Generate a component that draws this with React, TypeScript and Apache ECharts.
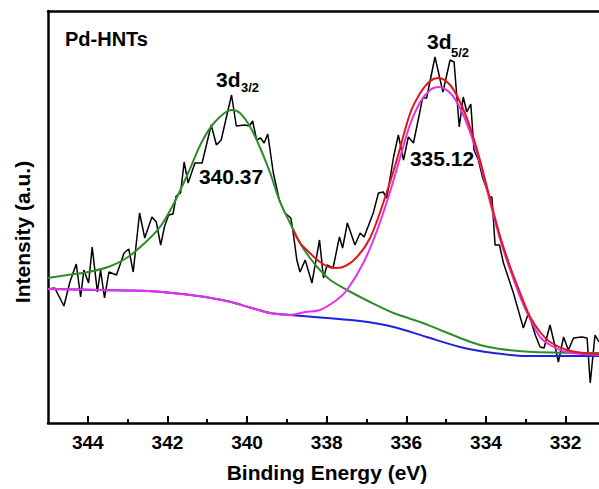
import React, { useEffect, useRef } from "react";
import * as echarts from "echarts";

// Binding energy (eV) / intensity (a.u.)
const rawBE = [345.0, 344.83, 344.6, 344.45, 344.29, 344.18, 344.1, 343.98, 343.89, 343.76, 343.68, 343.58, 343.47, 343.28, 343.09, 342.97, 342.86, 342.7, 342.57, 342.39, 342.28, 342.17, 342.07, 341.97, 341.86, 341.78, 341.67, 341.58, 341.48, 341.31, 341.13, 340.9, 340.77, 340.65, 340.39, 340.27, 340.06, 339.94, 339.86, 339.76, 339.66, 339.57, 339.48, 339.34, 339.19, 339.05, 338.9, 338.85, 338.75, 338.67, 338.54, 338.37, 338.18, 338.08, 337.99, 337.84, 337.68, 337.6, 337.48, 337.29, 337.16, 337.06, 336.83, 336.7, 336.58, 336.49, 336.32, 336.2, 336.07, 335.95, 335.82, 335.59, 335.49, 335.28, 335.08, 334.9, 334.8, 334.67, 334.57, 334.48, 334.38, 334.3, 334.19, 334.08, 333.91, 333.85, 333.77, 333.66, 333.56, 333.31, 333.06, 332.93, 332.76, 332.64, 332.54, 332.39, 332.26, 332.18, 332.05, 331.93, 331.8, 331.59, 331.46, 331.38, 331.26, 331.16];
const rawCounts = [134, 135, 117, 141, 159, 126, 153, 140, 176, 131, 153, 125, 151, 148, 170, 174, 151, 210, 185, 206, 201, 178, 197, 208, 209, 227, 230, 261, 240, 260, 260, 298, 278, 283, 328, 297, 298, 297, 302, 283, 285, 280, 289, 250, 223, 210, 205, 193, 163, 151, 163, 140, 183, 145, 158, 155, 186, 175, 200, 178, 190, 186, 210, 230, 231, 225, 266, 288, 263, 286, 280, 325, 325, 366, 331, 363, 361, 296, 326, 311, 319, 273, 263, 245, 226, 226, 178, 178, 160, 130, 95, 110, 88, 76, 75, 98, 76, 61, 86, 73, 85, 86, 85, 40, 88, 81];

const bgBE = [345.0, 343.69, 342.49, 341.23, 340.4, 339.97, 339.42, 338.92, 338.0, 337.16, 336.32, 335.49, 334.65, 333.81, 332.97, 332.14, 331.16];
const bgCounts = [134, 133, 132, 127, 121, 116, 110, 108, 105, 102, 96, 86, 76, 70, 67, 67, 67];

const p32BE = [345.0, 344.5, 343.99, 343.49, 342.99, 342.49, 342.15, 341.82, 341.48, 341.15, 340.81, 340.39, 340.18, 339.92, 339.67, 339.42, 339.17, 338.92, 338.67, 338.42, 338.17, 337.91, 337.49, 336.91, 336.32, 335.65, 335.15, 334.65, 334.15, 333.64, 332.81, 331.16];
const p32Counts = [145, 148, 151, 156, 166, 183, 198, 221, 250, 280, 301, 313, 310, 296, 275, 250, 221, 200, 180, 165, 153, 143, 133, 121, 110, 101, 93, 85, 78, 74, 71, 70];

const p52BE = [345.0, 343.69, 342.49, 341.23, 340.4, 339.97, 339.42, 338.92, 338.54, 338.17, 337.75, 337.49, 337.08, 336.74, 336.41, 336.16, 335.91, 335.65, 335.4, 335.19, 334.9, 334.65, 334.4, 334.15, 333.89, 333.64, 333.39, 333.14, 332.89, 332.64, 332.39, 331.97, 331.16];
const p52Counts = [134, 133, 132, 127, 121, 116, 110, 108, 111, 113, 123, 133, 160, 192, 231, 265, 298, 321, 333, 336, 330, 315, 291, 260, 220, 183, 153, 126, 104, 86, 78, 71, 68];

const envBE = [338.84, 338.67, 338.5, 338.17, 337.84, 337.59, 337.24, 336.91, 336.58, 336.24, 335.91, 335.65, 335.4, 335.19, 334.9, 334.65, 334.4, 334.15, 333.89, 333.64, 333.39, 333.14, 332.89, 332.64, 332.39, 331.97, 331.56, 331.16];
const envCounts = [193, 180, 173, 161, 155, 156, 166, 185, 220, 263, 309, 330, 342, 345, 338, 321, 296, 263, 223, 186, 156, 130, 106, 91, 81, 73, 70, 69];

const majorTicks = [344, 342, 340, 338, 336, 334, 332];
const minorTicks = [343, 341, 339, 337, 335, 333];

const FONT = "'Liberation Sans', Arial, Helvetica, sans-serif";

const zip = (xs: number[], ys: number[]) => xs.map((x, i) => [x, ys[i]]);

export default function App() {
  const ref = useRef<HTMLDivElement>(null);
  useEffect(() => {
    if (!ref.current) return;
    const chart = echarts.init(ref.current, null, { renderer: "svg" });
    const txt = (text: string, x: number, y: number, size: number, align: string = "left", rotation = 0) => ({
      type: "text",
      x,
      y,
      rotation,
      style: {
        text,
        fontFamily: FONT,
        fontWeight: "bold",
        fontSize: size,
        fill: "#000",
        align,
        verticalAlign: "middle",
      },
      z: 10,
    });
    const fitLine = (name: string, data: number[][], color: string) => ({
      name,
      type: "line",
      data,
      showSymbol: false,
      smooth: 0.3,
      lineStyle: { color, width: 2 },
      z: 3,
    });
    chart.setOption({
      animation: false,
      backgroundColor: "#fff",
      grid: { left: 48, top: 11, width: 551, height: 412 },
      xAxis: [
        {
          type: "value",
          min: 331.16,
          max: 345,
          inverse: true,
          position: "bottom",
          axisLine: { show: true, lineStyle: { color: "#000", width: 2.5 } },
          axisTick: { show: true, inside: true, length: 7, customValues: majorTicks, lineStyle: { color: "#000", width: 2 } },
          axisLabel: { customValues: majorTicks, fontFamily: FONT, fontWeight: "bold", fontSize: 19, color: "#000", margin: 10 },
          splitLine: { show: false },
        },
        {
          type: "value",
          min: 331.16,
          max: 345,
          inverse: true,
          position: "bottom",
          axisLine: { show: false },
          axisTick: { show: true, inside: true, length: 4, customValues: minorTicks, lineStyle: { color: "#000", width: 2 } },
          axisLabel: { show: false },
          splitLine: { show: false },
        },
        {
          type: "value",
          min: 331.16,
          max: 345,
          inverse: true,
          position: "top",
          axisLine: { show: true, lineStyle: { color: "#000", width: 2.5 } },
          axisTick: { show: false },
          axisLabel: { show: false },
          splitLine: { show: false },
        },
      ],
      yAxis: {
        type: "value",
        min: 0,
        max: 412,
        axisLine: { show: true, lineStyle: { color: "#000", width: 2.5 } },
        axisTick: { show: false },
        axisLabel: { show: false },
        splitLine: { show: false },
      },
      series: [
        {
          name: "Raw",
          type: "line",
          data: zip(rawBE, rawCounts),
          showSymbol: false,
          lineStyle: { color: "#000", width: 1.5 },
          z: 2,
        },
        fitLine("Background", zip(bgBE, bgCounts), "#2020e0"),
        fitLine("3d3/2", zip(p32BE, p32Counts), "#2e8b2e"),
        fitLine("3d5/2", zip(p52BE, p52Counts), "#e830e8"),
        fitLine("Envelope", zip(envBE, envCounts), "#e01818"),
      ],
      graphic: [
        txt("Pd-HNTs", 65, 39, 20),
        txt("3d", 216, 79, 21),
        txt("3/2", 241, 87, 13),
        txt("3d", 427, 41, 21),
        txt("5/2", 451, 52, 13),
        txt("340.37", 231, 176, 21, "center"),
        txt("335.12", 442, 158, 21, "center"),
        txt("Binding Energy (eV)", 327, 472, 21, "center"),
        txt("Intensity (a.u.)", 22, 232, 21, "center", Math.PI / 2),
      ],
    });
    return () => chart.dispose();
  }, []);
  return <div ref={ref} style={{ position: "fixed", left: 0, top: 0, width: 599, height: 489 }} />;
}
